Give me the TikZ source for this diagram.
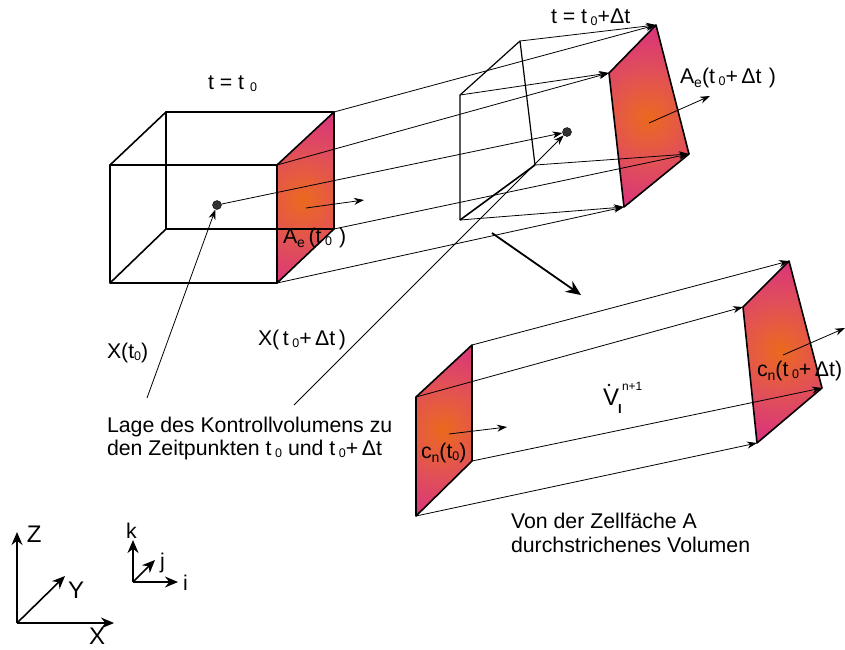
\documentclass[tikz,border=0pt]{standalone}
\usepackage{fontspec}
\setmainfont{Liberation Sans}
\usetikzlibrary{arrows.meta}
\pgfdeclareradialshading{facegrad}{\pgfpoint{0bp}{0bp}}{rgb(0bp)=(0.92,0.41,0.11); rgb(4bp)=(0.91,0.38,0.20); rgb(12bp)=(0.88,0.31,0.35); rgb(24bp)=(0.85,0.19,0.50); rgb(50bp)=(0.84,0.14,0.56)}
\newcommand{\lowz}{\raisebox{-2.5pt}{\fontsize{12.5}{13}\selectfont 0}}
\newcommand{\lowe}[1]{\raisebox{-4pt}{\fontsize{14}{15}\selectfont #1}}
\tikzset{
  lbl/.style={anchor=base west,inner sep=0pt,outer sep=0pt,font=\fontsize{21.3}{23}\selectfont,text=black},
  biglbl/.style={lbl,font=\fontsize{24}{26}\selectfont},
  edge/.style={line width=1.6pt,black,line join=round},
  thinedge/.style={line width=1.2pt,black,line join=round},
  link/.style={line width=0.8pt,black,-{Stealth[length=10pt,width=7pt]}},
  axis/.style={line width=1.6pt,black,-{Stealth[length=13pt,width=11pt]}},
  dotnode/.style={circle,fill=black!80,draw=black,line width=0.4pt,minimum size=9pt,inner sep=0pt},
}
\begin{document}
\begin{tikzpicture}[x=1pt,y=-1pt]
\useasboundingbox (0,0) rectangle (845,649);
% first cube
\coordinate (aftl) at (110,165);
\coordinate (aftr) at (277,165);
\coordinate (afbl) at (110,283);
\coordinate (afbr) at (277,283);
\coordinate (abtl) at (166,112);
\coordinate (abtr) at (334,112);
\coordinate (abbl) at (166,229);
\coordinate (abbr) at (334,229);
% second cell
\coordinate (bbt) at (520,41);
\coordinate (bfl) at (460,95);
\coordinate (bfb) at (460,220);
\coordinate (bbb) at (535,165);
\coordinate (bft) at (656,25);
\coordinate (bfn) at (609,73);
\coordinate (bfd) at (624,207);
\coordinate (bfr) at (689,154);
% swept volume
\coordinate (ct) at (472,345);
\coordinate (cl) at (416,397);
\coordinate (cb) at (416,516);
\coordinate (cr) at (472,461);
\coordinate (dt) at (789,261);
\coordinate (dl) at (743,307);
\coordinate (db) at (757,443);
\coordinate (dr) at (822,388);
% shaded faces
\begin{scope}
\clip (aftr) -- (abtr) -- (abbr) -- (afbr) -- cycle;
\shade[shading=facegrad] (203,100) rectangle (403,300);
\end{scope}
\begin{scope}
\clip (bfn) -- (bft) -- (bfr) -- (bfd) -- cycle;
\shade[shading=facegrad] (548,18) rectangle (748,218);
\end{scope}
\begin{scope}
\clip (cl) -- (ct) -- (cr) -- (cb) -- cycle;
\shade[shading=facegrad] (343,330) rectangle (543,530);
\end{scope}
\begin{scope}
\clip (dl) -- (dt) -- (dr) -- (db) -- cycle;
\shade[shading=facegrad] (680,250) rectangle (880,450);
\end{scope}
% cube edges
\draw[edge] (aftl) -- (aftr) -- (afbr) -- (afbl) -- cycle;
\draw[edge] (abtl) -- (abtr) -- (abbr) -- (abbl) -- cycle;
\draw[edge] (aftl) -- (abtl);
\draw[edge] (aftr) -- (abtr);
\draw[edge] (afbl) -- (abbl);
\draw[edge] (afbr) -- (abbr);
\draw[thinedge] (bfb) -- (bfl) -- (bbt) -- (bbb);
\draw[edge] (bbb) -- (bfb);
\draw[edge] (bfn) -- (bft) -- (bfr) -- (bfd) -- cycle;
\draw[edge] (ct) -- (cl) -- (cb) -- (cr) -- cycle;
\draw[edge] (dl) -- (dt) -- (dr) -- (db) -- cycle;
% dots
\node[dotnode] (dot1) at (217,205) {};
\node[dotnode] (dot2) at (567,132) {};
% links between time levels
\draw[link] (abtr) -- (bft);
\draw[link] (bbt) -- (bft);
\draw[link] (aftr) -- (bfn);
\draw[link] (bfl) -- (bfn);
\draw[link] (dot1) -- (dot2);
\draw[link] (abbr) -- (bfr);
\draw[link] (bbb) -- (bfr);
\draw[link] (afbr) -- (bfd);
\draw[link] (bfb) -- (bfd);
% position arrows
\coordinate (xa) at (147,398);
\coordinate (xb) at (294,405);
\draw[link] (xa) -- (dot1);
\draw[link] (xb) -- (dot2);
% normals
\coordinate (na1) at (306,208);
\coordinate (na2) at (364,200);
\coordinate (nb1) at (649,123);
\coordinate (nb2) at (710,96);
\coordinate (nc1) at (449,434);
\coordinate (nc2) at (507,427);
\coordinate (nd1) at (783,355);
\coordinate (nd2) at (845,328);
\draw[link] (na1) -- (na2);
\draw[link] (nb1) -- (nb2);
\draw[link] (nc1) -- (nc2);
\draw[link] (nd1) -- (nd2);
% swept links
\draw[link] (ct) -- (dt);
\draw[link] (cl) -- (dl);
\draw[link] (cr) -- (dr);
\draw[link] (cb) -- (db);
% big arrow
\coordinate (ba) at (492,233);
\coordinate (bb) at (581,295);
\draw[line width=1.8pt,black,-{Stealth[length=15pt,width=13pt]}] (ba) -- (bb);
% labels
\node[lbl] (l1) at (208,89) {t = t \lowz};
\node[lbl] (l2) at (551,23) {t = t\,\lowz+\char"0394 t};
\node[lbl] (l3) at (680,83) {A\lowe{e}(t\,\lowz+\,\char"0394 t\,\,)};
\node[lbl] (l4) at (283,243) {A\lowe{e}\,(t\,\lowz\,\,)};
\node[lbl] (l5) at (107,358) {X(t\lowz)};
\node[lbl] (l6) at (258,345) {X(\,t\,\lowz+\,\char"0394 t\,)};
\node[lbl] (l7) at (107,432) {Lage des Kontrollvolumens zu};
\node[lbl] (l8) at (107,455) {den Zeitpunkten t\,\lowz\ und t\,\lowz+\,\char"0394 t};
\node[biglbl] (l9) at (603,405) {V};
\fill (609,385) circle (1.4pt);
\node[lbl,font=\fontsize{13}{14}\bfseries\selectfont] (l10) at (618,413) {I};
\node[lbl,font=\fontsize{12}{13}\selectfont] (l11) at (622,390) {n+1};
\node[lbl] (l12) at (421,458) {c\lowe{n}(t\lowz)};
\node[lbl] (l13) at (757,376) {c\lowe{n}(t\,\lowz+\,\char"0394 t)};
\node[lbl] (l14) at (511,528) {Von der Zellfäche A};
\node[lbl] (l15) at (511,552) {durchstrichenes Volumen};
% axes
\coordinate (oa) at (17,623);
\coordinate (oz) at (17,532);
\coordinate (ox) at (114,623);
\coordinate (oy) at (65,576);
\draw[axis] (oa) -- (oz);
\draw[axis] (oa) -- (ox);
\draw[axis] (oa) -- (oy);
\node[biglbl] (az) at (27,542) {Z};
\node[biglbl] (ay) at (68,598) {Y};
\node[biglbl] (ax) at (89,644) {X};
\coordinate (ob) at (133,582);
\coordinate (ok) at (133,540);
\coordinate (oi) at (178,582);
\coordinate (oj) at (155,560);
\draw[axis] (ob) -- (ok);
\draw[axis] (ob) -- (oi);
\draw[axis] (ob) -- (oj);
\node[lbl] (ak) at (126,538) {k};
\node[lbl] (aj) at (160,568) {j};
\node[lbl] (ai) at (183,590) {i};
\end{tikzpicture}
\end{document}
